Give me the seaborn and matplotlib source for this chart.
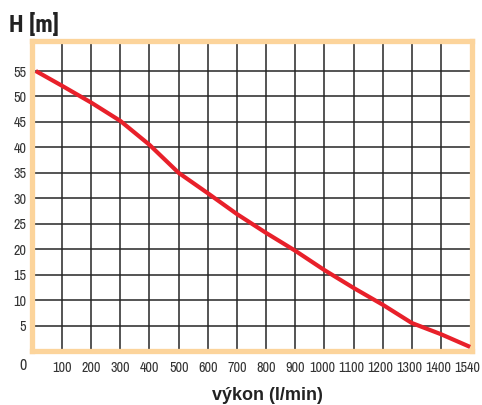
import matplotlib
matplotlib.use("Agg")
import matplotlib.pyplot as plt
import matplotlib.transforms as mtransforms
import seaborn as sns
import pandas as pd
from matplotlib import font_manager

# ---- data ----
flow_pos = [10, 100, 200, 300, 400, 500, 600, 700, 800, 900, 1000, 1100, 1200, 1300, 1400, 1500]
head_m = [55, 52.1, 48.8, 45.2, 40.5, 35.0, 31.0, 26.9, 23.2, 19.7, 15.9, 12.4, 9.1, 5.5, 3.3, 0.8]
x_ticks = [100, 200, 300, 400, 500, 600, 700, 800, 900, 1000, 1100, 1200, 1300, 1400, 1500]
x_tick_labels = ["100", "200", "300", "400", "500", "600", "700", "800", "900", "1000",
                 "1100", "1200", "1300", "1400", "1540"]
y_ticks = [5, 10, 15, 20, 25, 30, 35, 40, 45, 50, 55]

df = pd.DataFrame({"flow": flow_pos, "head": head_m})

sns.set_style("white")
names = {f.name for f in font_manager.fontManager.ttflist}


def pick(cands):
    for c in cands:
        if c in names:
            return c
    return "DejaVu Sans"


narrow = pick(["Liberation Sans Narrow", "Archivo Narrow", "Roboto Condensed", "Liberation Sans"])
narrow_bold = pick(["Liberation Sans Narrow", "Roboto Condensed", "Open Sans Condensed",
                    "Asap Condensed", "Liberation Sans"])
regular = pick(["Liberation Sans", "Arimo", "DejaVu Sans"])
plt.rcParams["font.family"] = [narrow, "DejaVu Sans"]

fig = plt.figure(figsize=(4.82, 4.05), dpi=100)
ax = fig.add_axes([0.0658, 0.1333, 0.979 - 0.0658, 0.8988 - 0.1333])

ax.set_xlim(-4, 1506)
ax.set_ylim(0, 60.9)

for xv in x_ticks[:-1]:
    ax.axvline(xv, color="#262626", lw=1.1, zorder=1)
for yv in y_ticks:
    ax.axhline(yv, color="#262626", lw=1.1, zorder=1)

sns.lineplot(data=df, x="flow", y="head", ax=ax, color="#e8202a", lw=3.0, zorder=3,
             solid_capstyle="butt")

ax.set_xticks(x_ticks)
ax.set_xticklabels(x_tick_labels)
ax.set_yticks(y_ticks)
ax.set_yticklabels([str(v) for v in y_ticks])
ax.tick_params(axis="both", length=0, labelsize=10.2, colors="#333333")
ax.tick_params(axis="x", pad=7.5)
ax.tick_params(axis="y", pad=4)
for lbl in ax.get_xticklabels() + ax.get_yticklabels():
    lbl.set_family([narrow, "DejaVu Sans"])
shift = mtransforms.ScaledTranslation(-2.5 / 100, 0, fig.dpi_scale_trans)
for lbl in ax.get_xticklabels():
    if len(lbl.get_text()) == 4:
        lbl.set_transform(lbl.get_transform() + shift)

for s in ax.spines.values():
    s.set_visible(True)
    s.set_color("#fcd49b")
    s.set_linewidth(3.8)

ax.set_xlabel("")
ax.set_ylabel("")
fig.text(267.5 / 482, 1 - 395 / 405, "výkon (l/min)", ha="center", va="center",
         fontsize=13, fontweight="bold", color="#222222", family=[regular, "DejaVu Sans"])

fig.text(23 / 482, 1 - 366 / 405, "0", ha="center", va="center", fontsize=11.5,
         color="#333333", family=[narrow, "DejaVu Sans"])
fig.text(9 / 482, 1 - 32 / 405, "H [m]", ha="left", va="baseline", fontsize=17,
         fontweight="bold", color="#222222", family=[narrow_bold, "DejaVu Sans"])

fig.savefig("out.png", dpi=100)
